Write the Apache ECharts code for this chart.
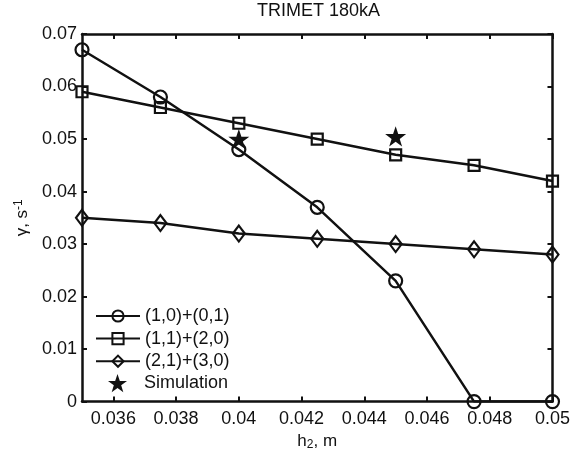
<!DOCTYPE html>
<html>
<head>
<meta charset="utf-8">
<script src="https://cdn.jsdelivr.net/npm/echarts@6/dist/echarts.min.js"></script>
<style>
  html, body { margin: 0; padding: 0; background: #fff; }
  #chart { width: 573px; height: 456px; }
</style>
</head>
<body>
<div id="chart"></div>
<script>
// Liquid-metal height h2 (m) against growth rate for three wave-mode pairs
const h2 = [0.035, 0.0375, 0.04, 0.0425, 0.045, 0.0475, 0.05];
const mode10_01 = [0.067, 0.058, 0.048, 0.037, 0.023, 0, 0];
const mode11_20 = [0.059, 0.056, 0.053, 0.050, 0.047, 0.045, 0.042];
const mode21_30 = [0.035, 0.034, 0.032, 0.031, 0.030, 0.029, 0.028];
const simX = [0.04, 0.045];
const simY = [0.050, 0.0505];
const xTicks = [0.036, 0.038, 0.04, 0.042, 0.044, 0.046, 0.048, 0.05];
const seriesNames = ['(1,0)+(0,1)', '(1,1)+(2,0)', '(2,1)+(3,0)', 'Simulation'];

const FONT = 'Liberation Sans, Arial, sans-serif';
const INK = '#111';
const STAR = 'path://M50,0 L61.8,35.5 L98,35.5 L68.6,57.4 L79.4,92 L50,70.6 L20.6,92 L31.4,57.4 L2,35.5 L38.2,35.5 Z';

const pairs = (xs, ys) => xs.map((x, i) => [x, ys[i]]);

function lineSeries(name, values, symbol, size) {
  return {
    name: name,
    type: 'line',
    data: pairs(h2, values),
    symbol: symbol,
    symbolSize: size,
    showAllSymbol: true,
    lineStyle: { color: INK, width: 2.5 },
    itemStyle: { color: 'transparent', borderColor: INK, borderWidth: 2.2 },
    emphasis: { disabled: true },
    z: 3
  };
}

const frameLine = { show: true, onZero: false, lineStyle: { color: INK, width: 2.5 } };
const frameTick = { show: true, inside: true, length: 5, lineStyle: { color: INK, width: 2 } };
const legendText = { fontFamily: FONT, fontSize: 18, color: INK };

const chart = echarts.init(document.getElementById('chart'), null, { renderer: 'canvas' });
chart.setOption({
  backgroundColor: '#fff',
  animation: false,
  textStyle: { fontFamily: FONT, color: INK },
  title: {
    text: 'TRIMET 180kA',
    left: 318.5,
    textAlign: 'center',
    top: 2,
    padding: 0,
    textStyle: { fontFamily: FONT, fontSize: 18, fontWeight: 'normal', color: INK }
  },
  grid: { left: 82, right: 18, top: 34, bottom: 51, containLabel: false },
  legend: [
    {
      orient: 'vertical',
      left: 95,
      top: 307,
      padding: 0,
      itemWidth: 44,
      itemHeight: 14,
      itemGap: 4.6,
      selectedMode: false,
      data: seriesNames.slice(0, 3),
      textStyle: legendText
    },
    {
      orient: 'vertical',
      left: 108,
      top: 374,
      padding: 0,
      itemWidth: 19,
      itemHeight: 19,
      selectedMode: false,
      data: seriesNames.slice(3),
      textStyle: Object.assign({ padding: [0, 0, 0, 12] }, legendText)
    }
  ],
  xAxis: [
    {
      type: 'value',
      min: 0.035,
      max: 0.05,
      position: 'bottom',
      name: '{n|h}{sub|2}{n|, m}',
      nameLocation: 'middle',
      nameGap: 24,
      nameTextStyle: {
        rich: {
          n: { fontFamily: FONT, fontSize: 17, color: INK },
          sub: { fontFamily: FONT, fontSize: 12, color: INK, verticalAlign: 'bottom', padding: [8, 0, 0, 0] }
        }
      },
      axisLine: frameLine,
      axisTick: Object.assign({ customValues: xTicks }, frameTick),
      axisLabel: {
        customValues: xTicks,
        margin: 8,
        fontFamily: FONT,
        fontSize: 18,
        color: INK,
        formatter: v => String(+v.toFixed(3))
      },
      splitLine: { show: false }
    },
    {
      type: 'value',
      min: 0.035,
      max: 0.05,
      position: 'top',
      axisLine: frameLine,
      axisTick: Object.assign({ customValues: xTicks }, frameTick),
      axisLabel: { show: false },
      splitLine: { show: false }
    }
  ],
  yAxis: [
    {
      type: 'value',
      min: 0,
      max: 0.07,
      interval: 0.01,
      position: 'left',
      name: '{n|γ, s}{sup|-1}',
      nameLocation: 'middle',
      nameRotate: 90,
      nameGap: 40,
      nameTextStyle: {
        rich: {
          n: { fontFamily: FONT, fontSize: 17, color: INK },
          sup: { fontFamily: FONT, fontSize: 12, color: INK, verticalAlign: 'top', padding: [0, 0, 8, 0] }
        }
      },
      axisLine: frameLine,
      axisTick: frameTick,
      axisLabel: {
        margin: 5,
        fontFamily: FONT,
        fontSize: 18,
        color: INK,
        formatter: v => String(+v.toFixed(2))
      },
      splitLine: { show: false }
    },
    {
      type: 'value',
      min: 0,
      max: 0.07,
      interval: 0.01,
      position: 'right',
      axisLine: frameLine,
      axisTick: frameTick,
      axisLabel: { show: false },
      splitLine: { show: false }
    }
  ],
  series: [
    lineSeries(seriesNames[0], mode10_01, 'circle', 13),
    lineSeries(seriesNames[1], mode11_20, 'rect', 11),
    lineSeries(seriesNames[2], mode21_30, 'diamond', [12, 16]),
    {
      name: seriesNames[3],
      type: 'scatter',
      data: pairs(simX, simY),
      symbol: STAR,
      symbolSize: 21,
      symbolKeepAspect: true,
      itemStyle: { color: INK, opacity: 1 },
      emphasis: { disabled: true },
      z: 4
    }
  ]
});
</script>
</body>
</html>
